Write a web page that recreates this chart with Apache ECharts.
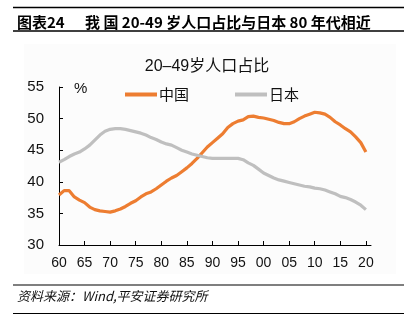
<!DOCTYPE html>
<html>
<head>
<meta charset="utf-8">
<script src="https://cdn.jsdelivr.net/npm/echarts@6/dist/echarts.min.js"></script>
<style>
html,body{margin:0;padding:0;background:#fff;}
#c{width:414px;height:328px;}
</style>
</head>
<body>
<div id="c"></div>
<script>
const years = [];
for (let y = 1960; y <= 2020; y++) years.push(y);

const chinaValues = [
  37.9, 38.6, 38.6, 37.6, 37.1, 36.7, 36.0, 35.6, 35.4, 35.3,
  35.2, 35.4, 35.7, 36.1, 36.6, 37.0, 37.6, 38.1, 38.4, 38.9,
  39.5, 40.1, 40.6, 41.0, 41.6, 42.2, 42.9, 43.7, 44.6, 45.5,
  46.2, 46.9, 47.6, 48.6, 49.2, 49.6, 49.8, 50.3, 50.4, 50.2,
  50.1, 49.9, 49.7, 49.4, 49.2, 49.2, 49.5, 50.0, 50.4, 50.7,
  51.0, 50.9, 50.7, 50.2, 49.5, 49.0, 48.4, 47.9, 47.1, 46.2,
  44.7
];
const japanValues = [
  43.1, 43.5, 44.0, 44.4, 44.7, 45.2, 45.8, 46.6, 47.4, 48.0,
  48.3, 48.4, 48.4, 48.3, 48.1, 47.9, 47.7, 47.4, 47.0, 46.7,
  46.3, 46.0, 45.8, 45.4, 45.0, 44.7, 44.4, 44.2, 44.0, 43.8,
  43.7, 43.7, 43.7, 43.7, 43.7, 43.7, 43.5, 43.0, 42.6, 42.0,
  41.4, 41.0, 40.6, 40.3, 40.1, 39.9, 39.7, 39.5, 39.3, 39.2,
  39.0, 38.9, 38.7, 38.4, 38.1, 37.7, 37.5, 37.2, 36.8, 36.3,
  35.6
];
const seriesNames = ['中国', '日本'];
const yTicks = [30, 35, 40, 45, 50, 55];
const xTickLabels = ['60','65','70','75','80','85','90','95','00','05','10','15','20'];

const chart = echarts.init(document.getElementById('c'), null, {renderer: 'canvas'});
const FONT = '"Liberation Sans", Arial, "Noto Sans CJK SC", sans-serif';
const CJK = '"Noto Sans CJK SC", "Liberation Sans", sans-serif';

chart.setOption({
  animation: false,
  backgroundColor: '#ffffff',
  textStyle: {fontFamily: FONT},
  title: {
    text: '20–49岁人口占比',
    left: 'center',
    top: 54,
    textStyle: {fontFamily: FONT, fontSize: 16, fontWeight: 'normal', color: '#111'}
  },
  legend: {
    data: seriesNames,
    left: 120,
    top: 82,
    itemWidth: 32,
    itemHeight: 4,
    itemGap: 46,
    icon: 'rect',
    textStyle: {fontFamily: CJK, fontSize: 15, color: '#111', padding: [0,0,0,-3]}
  },
  grid: {left: 59, right: 43, top: 87, bottom: 83},
  xAxis: {
    type: 'value',
    min: 1960,
    max: 2021,
    interval: 5,
    axisLine: {lineStyle: {color: '#000', width: 1}},
    axisTick: {inside: true, length: 4, lineStyle: {color: '#000'}},
    splitLine: {show: false},
    axisLabel: {
      fontSize: 14, color: '#111', margin: 11, fontFamily: FONT,
      formatter: function (v) {
        const i = Math.round((v - 1960) / 5);
        return xTickLabels[i] !== undefined ? xTickLabels[i] : '';
      }
    }
  },
  yAxis: {
    type: 'value',
    min: yTicks[0],
    max: yTicks[yTicks.length - 1],
    interval: 5,
    axisLine: {show: true, lineStyle: {color: '#000', width: 1}},
    axisTick: {show: true, inside: true, length: 4, lineStyle: {color: '#000'}},
    splitLine: {show: false},
    axisLabel: {fontSize: 15, color: '#111', margin: 15, fontFamily: FONT}
  },
  graphic: [
    {type: 'rect', z: -10, shape: {x: 24, y: 44, width: 372, height: 230}, style: {fill: '#fcfcfc'}},
    {type: 'line', shape: {x1: 13, y1: 7.5, x2: 404, y2: 7.5}, style: {stroke: '#000', lineWidth: 1.5}},
    {type: 'line', shape: {x1: 13, y1: 31, x2: 404, y2: 31}, style: {stroke: '#000', lineWidth: 1.5}},
    {type: 'text', x: 17, y: 22, style: {text: '图表24', fontFamily: CJK, fontSize: 15, fontWeight: 'bold', fill: '#000', textVerticalAlign: 'middle'}},
    {type: 'text', x: 85, y: 22, style: {text: '我 国 20-49 岁人口占比与日本 80 年代相近', fontFamily: CJK, fontSize: 15, fontWeight: 'bold', fill: '#000', textVerticalAlign: 'middle'}},
    {type: 'text', x: 74, y: 89, style: {text: '%', fontFamily: FONT, fontSize: 15, fill: '#111', textVerticalAlign: 'middle'}},
    {type: 'line', shape: {x1: 13, y1: 285, x2: 404, y2: 285}, style: {stroke: '#000', lineWidth: 1.2}},
    {type: 'line', shape: {x1: 13, y1: 313.5, x2: 404, y2: 313.5}, style: {stroke: '#000', lineWidth: 1.2}},
    {type: 'text', x: 17, y: 296, style: {text: '资料来源：Wind,平安证券研究所', fontFamily: CJK, fontSize: 13, fontStyle: 'italic', fill: '#111', textVerticalAlign: 'middle'}}
  ],
  series: [
    {
      name: seriesNames[0],
      type: 'line',
      data: years.map((y, i) => [y, chinaValues[i]]),
      showSymbol: false,
      smooth: false,
      color: '#ED7D31',
      lineStyle: {width: 3.2, color: '#ED7D31'}
    },
    {
      name: seriesNames[1],
      type: 'line',
      data: years.map((y, i) => [y, japanValues[i]]),
      showSymbol: false,
      smooth: false,
      color: '#BFBFBF',
      lineStyle: {width: 3.2, color: '#BFBFBF'}
    }
  ]
});
</script>
</body>
</html>
